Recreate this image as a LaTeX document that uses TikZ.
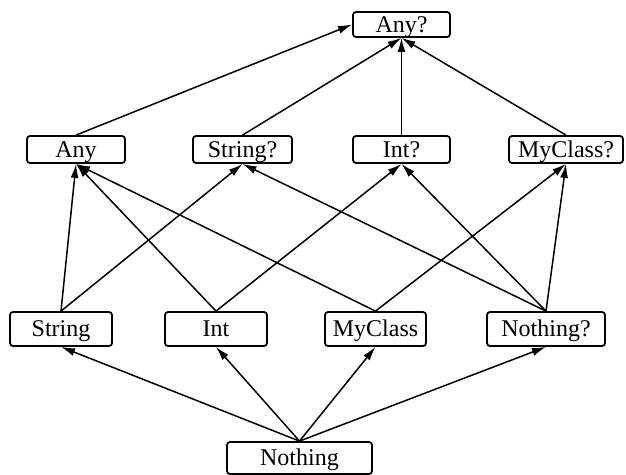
\documentclass[tikz,border=0pt]{standalone}
\usepackage{fontspec}
\setmainfont{Liberation Serif}
\usetikzlibrary{arrows.meta}
\usetikzlibrary{positioning}

\begin{document}
\begin{tikzpicture}[x=1pt, y=-1pt,
  box/.style={draw, line width=1.8pt, rounded corners=3pt, inner sep=0pt,
              font=\fontsize{24}{24}\selectfont, text height=20pt, text depth=5pt},
  edge/.style={-{Latex[length=14pt,width=8pt]}, line width=1.5pt}]

 \useasboundingbox (0,0) rectangle (626,474);

 %top
 \node[box, minimum width=97pt, minimum height=25pt] (AnyQ) at (401.5, 24.5) {Any?};

 %level 2
 \foreach \x/\w/\name/\txt in {76/98/Any/Any, 242.5/99/StringQ/String?,
                                401.5/97/IntQ/Int?, 566/114/MyClassQ/MyClass?} {
         \node[box, minimum width=\w pt, minimum height=27pt] (\name) at (\x, 149.5) {\txt};
 }

 %level 3
 \foreach \x/\w/\name/\txt in {61/102/String/String, 216/102/Int/Int,
                                375.5/101/MyClass/MyClass, 546/118/NothingQ/Nothing?} {
         \node[box, minimum width=\w pt, minimum height=34pt] (\name) at (\x, 329) {\txt};
 }

 %bottom
 \node[box, minimum width=145pt, minimum height=32pt] (Nothing) at (299.5, 458) {Nothing};

 %arrows to Any?
 \draw[edge] (Any.north) -- (AnyQ.west);
 \foreach \a in {StringQ, IntQ, MyClassQ} {
         \draw[edge] (\a.north) -- (AnyQ.south);
 }

 %arrows to level 2
 \foreach \a/\b in {String/Any, Int/Any, MyClass/Any, String/StringQ, NothingQ/StringQ,
                    Int/IntQ, NothingQ/IntQ, MyClass/MyClassQ, NothingQ/MyClassQ} {
         \draw[edge] (\a.north) -- (\b.south);
 }

 %arrows from Nothing
 \foreach \b in {String, Int, MyClass, NothingQ} {
         \draw[edge] (Nothing.north) -- (\b.south);
 }

\end{tikzpicture}
\end{document}
